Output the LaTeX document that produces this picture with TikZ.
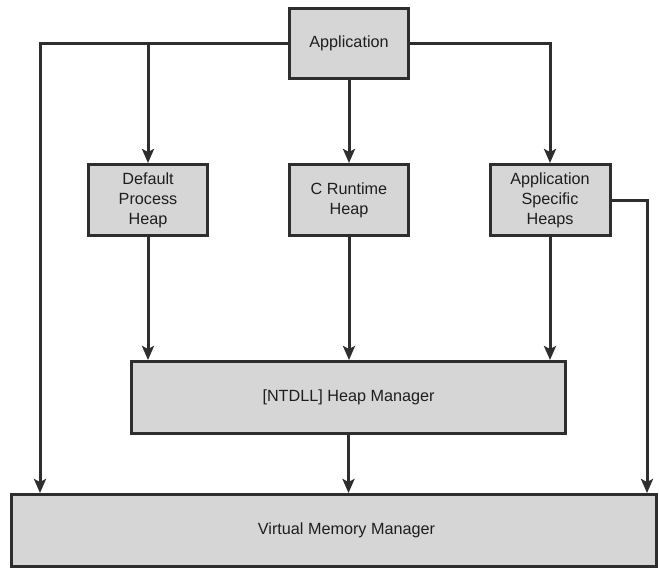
\documentclass[tikz,border=0pt]{standalone}
\usepackage{fontspec}
\setmainfont{Liberation Sans}
\usetikzlibrary{arrows.meta}
\definecolor{linec}{HTML}{2E2E2E}
\definecolor{boxfill}{HTML}{D6D6D6}
\definecolor{textc}{HTML}{1E1E1E}
\begin{document}
\begin{tikzpicture}[x=1pt,y=-1pt,
  box/.style={draw=linec, fill=boxfill, line width=3pt, inner sep=0pt,
    text=textc, font=\fontsize{16.2}{20}\selectfont, align=center},
  conn/.style={draw=linec, line width=3pt, -{Stealth[length=14pt,width=12pt,inset=3pt]}}]
\useasboundingbox (0,0) rectangle (660,570);
\node[box, minimum width=119, minimum height=70] (app) at (349,43.5) {Application};
\node[box, minimum width=119, minimum height=71] (dph) at (148,200) {Default\\Process\\Heap};
\node[box, minimum width=119, minimum height=71] (crh) at (349,200) {C Runtime\\Heap};
\node[box, minimum width=120, minimum height=71] (ash) at (550,200) {Application\\Specific\\Heaps};
\node[box, minimum width=434, minimum height=72] (hm) at (348.5,397.5) {[NTDLL] Heap Manager};
\node[box, minimum width=645, minimum height=72] (vmm) at (334,530.5) {\hspace*{25pt}Virtual Memory Manager};
\coordinate (lc) at (40,43.5);
\coordinate (rc) at (647,200);
\draw[conn] (app.west) -- (lc) -- (lc |- vmm.north);
\draw[conn] (dph.north |- app.west) -- (dph.north);
\draw[conn] (app.east) -- (ash.north |- app.east) -- (ash.north);
\draw[conn] (app.south) -- (crh.north);
\draw[conn] (ash.east) -- (rc) -- (rc |- vmm.north);
\draw[conn] (dph.south) -- (dph.south |- hm.north);
\draw[conn] (crh.south) -- (crh.south |- hm.north);
\draw[conn] (ash.south) -- (ash.south |- hm.north);
\draw[conn] (hm.south) -- (hm.south |- vmm.north);
\end{tikzpicture}
\end{document}
